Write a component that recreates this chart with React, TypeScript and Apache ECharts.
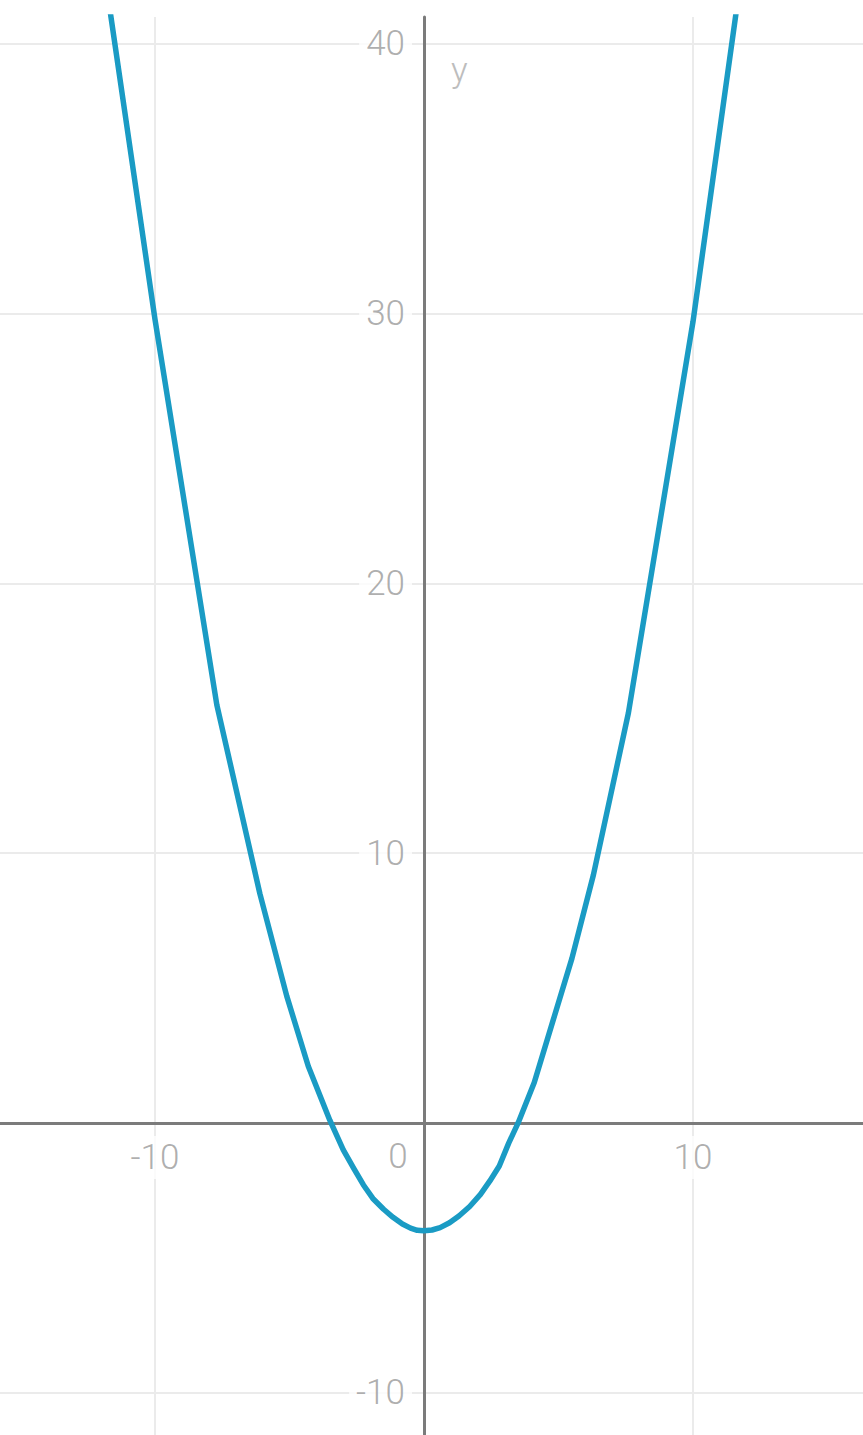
import React, { useEffect, useRef } from "react";
import * as echarts from "echarts";

const xValues = [-12, -10, -7.7, -6.1, -5.1, -4.3, -3.5, -3.0, -2.6, -2.25, -1.9, -1.5, -1.15, -0.8, -0.5, -0.25, 0, 0.3, 0.6, 0.95, 1.3, 1.7, 2.1, 2.45, 2.8, 3.15, 3.5, 4.1, 4.8, 5.5, 6.3, 7.6, 10, 12];
const yValues = [43.5, 29.8, 15.5, 8.5, 4.7, 2.1, 0.1, -1.0, -1.7, -2.3, -2.8, -3.2, -3.5, -3.75, -3.9, -3.98, -4.0, -3.97, -3.88, -3.7, -3.45, -3.1, -2.65, -2.15, -1.6, -0.75, 0.0, 1.5, 3.8, 6.1, 9.2, 15.2, 29.7, 44];

const xTicks = [-10, 10];
const yTicks = [-10, 10, 20, 30, 40];
const xRange = [-15.76, 16.32];
const yRange = [-11.57, 41];
const originLabel = ["0"];
const yAxisName = "y";

const LABEL_COLOR = "#999999";
const FONT = "Roboto";

export default function App() {
  const ref = useRef<HTMLDivElement>(null);
  useEffect(() => {
    if (!ref.current) return;
    const chart = echarts.init(ref.current, undefined, { renderer: "svg" });
    const labelText = {
      color: LABEL_COLOR,
      fontFamily: FONT,
      fontWeight: 300,
      fontSize: 35,
    };
    chart.setOption({
      animation: false,
      backgroundColor: "#ffffff",
      grid: { left: 0, right: 0, top: 17, bottom: 0, containLabel: false, outerBoundsMode: "none" },
      xAxis: {
        type: "value",
        min: xRange[0],
        max: xRange[1],
        splitNumber: 3,
        axisLine: { onZero: true, lineStyle: { color: "#7b7b7b", width: 3 } },
        axisTick: { show: false },
        axisLabel: { show: false },
        splitLine: { show: true, showMinLine: false, showMaxLine: false, lineStyle: { color: "#ebebeb", width: 2 } },
      },
      yAxis: {
        type: "value",
        min: yRange[0],
        max: yRange[1],
        splitNumber: 5,
        name: yAxisName,
        nameLocation: "end",
        nameGap: -53,
        nameTextStyle: {
          color: "#bdbdbd",
          fontFamily: FONT,
          fontWeight: 300,
          fontSize: 35,
          align: "left",
          verticalAlign: "middle",
          padding: [0, 0, 0, 27],
        },
        axisLine: { onZero: true, lineStyle: { color: "#7b7b7b", width: 3 } },
        axisTick: { show: false },
        axisLabel: { show: false },
        splitLine: { show: true, showMinLine: false, showMaxLine: false, lineStyle: { color: "#ebebeb", width: 2 } },
      },
      series: [
        {
          type: "scatter",
          data: yTicks.map((v) => [0, v]),
          symbolSize: 0,
          silent: true,
          label: {
            show: true,
            formatter: (p: any) => String(p.value[1]),
            position: "left",
            distance: 12,
            backgroundColor: "#ffffff",
            padding: [2, 7],
            ...labelText,
          },
          z: 1,
        },
        {
          type: "scatter",
          data: xTicks.map((v) => [v, 0]),
          symbolSize: 0,
          silent: true,
          label: {
            show: true,
            formatter: (p: any) => String(p.value[0]),
            position: "bottom",
            distance: 13,
            backgroundColor: "#ffffff",
            padding: [4, 6],
            ...labelText,
          },
          z: 1,
        },
        {
          type: "scatter",
          data: [[0, 0]],
          symbolSize: 0,
          silent: true,
          label: {
            show: true,
            formatter: () => originLabel[0],
            position: "inside",
            offset: [-26, 34],
            ...labelText,
          },
          z: 1,
        },
        {
          type: "line",
          data: xValues.map((x, i) => [x, yValues[i]]),
          symbol: "none",
          smooth: false,
          clip: true,
          lineStyle: { color: "#1a9bc4", width: 5.5, join: "round" },
          z: 3,
        },
      ],
    });
    return () => chart.dispose();
  }, []);
  return (
    <div
      ref={ref}
      style={{ position: "absolute", left: 0, top: 0, width: 863, height: 1435 }}
    />
  );
}
